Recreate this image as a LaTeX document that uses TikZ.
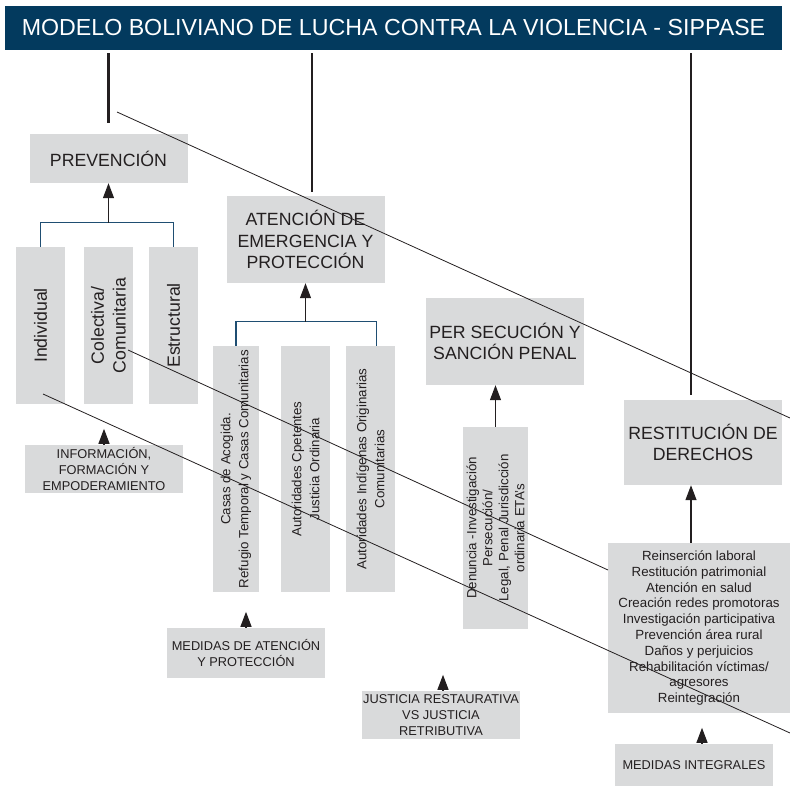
\documentclass[tikz,border=0pt]{standalone}
\usepackage{fontspec}
\setmainfont{Liberation Sans}
\usetikzlibrary{arrows.meta}
\definecolor{hdrblue}{HTML}{033A5E}
\definecolor{boxgray}{HTML}{D9DADB}
\definecolor{brkblue}{HTML}{1F4E72}
\definecolor{ink}{HTML}{231F20}
\newcommand{\bigtxt}{\fontsize{17.7}{21.7}\selectfont}
\newcommand{\captxt}{\fontsize{12.8}{16}\selectfont}
\newcommand{\vtxt}{\fontsize{13.3}{18}\selectfont}
\newcommand{\listtxt}{\fontsize{13.3}{15.8}\selectfont}
\begin{document}
\begin{tikzpicture}[x=1pt,y=-1pt,
    box/.style={fill=boxgray,text=ink,align=center,inner sep=0pt},
    tip/.style={-{Triangle[width=11pt,length=15pt]},ink,line width=1.2pt},
    stem/.style={ink,line width=2.6pt},
    diag/.style={ink,line width=0.8pt},
    brk/.style={brkblue,line width=1.2pt}]
    \useasboundingbox (0,0) rectangle (790,786);
    \node[fill=hdrblue,text=white,inner sep=0pt,minimum width=777,minimum height=44,font=\fontsize{23.2}{28}\selectfont] (hdr) at (393.5,28)
      {MODELO BOLIVIANO DE LUCHA CONTRA LA VIOLENCIA - SIPPASE};
    % prevencion
    \node[box,font=\bigtxt,minimum width=158,minimum height=49] (prev) at (108.5,158.5) {PREVENCIÓN};
    \node[box,font=\bigtxt,rotate=90,minimum width=157,minimum height=49] (ind) at (40.5,325.5) {Individual};
    \node[box,font=\bigtxt,rotate=90,minimum width=157,minimum height=49] (col) at (108.5,325.5) {Colectiva/\\Comunitaria};
    \node[box,font=\bigtxt,rotate=90,minimum width=157,minimum height=49] (est) at (173.5,325.5) {Estructural};
    \node[box,font=\captxt,minimum width=158,minimum height=48] (info) at (104,469) {INFORMACIÓN,\\FORMACIÓN Y\\EMPODERAMIENTO};
    % atencion
    \node[box,font=\bigtxt,minimum width=158,minimum height=87] (aten) at (305.5,239.5) {ATENCIÓN DE\\EMERGENCIA Y\\PROTECCIÓN};
    \node[box,font=\vtxt,rotate=90,minimum width=246,minimum height=46] (casas) at (236,469) {Casas de Acogida.\\Refugio Temporal y Casas Comunitarias};
    \node[box,font=\vtxt,rotate=90,minimum width=246,minimum height=49] (cpet) at (305.5,469) {Autoridades Cpetentes\\Justicia Ordinaria};
    \node[box,font=\vtxt,rotate=90,minimum width=246,minimum height=49] (indig) at (370.5,469) {Autoridades Indígenas Originarias\\Comunitarias};
    \node[box,font=\captxt,minimum width=158,minimum height=50] (medat) at (246,653) {MEDIDAS DE ATENCIÓN\\Y PROTECCIÓN};
    % persecucion
    \node[box,font=\bigtxt,minimum width=158,minimum height=87] (pers) at (505,341.5) {PER SECUCIÓN Y\\SANCIÓN PENAL};
    \node[box,font=\fontsize{13.3}{16}\selectfont,rotate=90,minimum width=202,minimum height=65] (denun) at (495.5,528)
      {Denuncia -Investigación\\Persecución/\\Legal, Penal Jurisdicción\\ordinaria ETA's};
    \node[box,font=\captxt,minimum width=158,minimum height=48] (just) at (441,715) {JUSTICIA RESTAURATIVA\\VS JUSTICIA\\RETRIBUTIVA};
    % restitucion
    \node[box,font=\bigtxt,minimum width=158,minimum height=85] (rest) at (703,442.5) {RESTITUCIÓN DE\\DERECHOS};
    \node[box,font=\listtxt,minimum width=182,minimum height=170] (list) at (699,628) {Reinserción laboral\\Restitución patrimonial\\Atención en salud\\Creación redes promotoras\\Investigación participativa\\Prevención área rural\\Daños y perjuicios\\Rehabilitación víctimas/\\agresores\\Reintegración};
    \node[box,font=\captxt,minimum width=158,minimum height=42] (medint) at (694,765) {MEDIDAS INTEGRALES};

    \coordinate (d1a) at (117,112);
    \coordinate (d1b) at (790,418);
    \coordinate (d2a) at (128,350);
    \coordinate (d2b) at (608,570);
    \coordinate (d3a) at (43,394);
    \coordinate (d3b) at (790,733);

    \draw[stem] ([yshift=-3pt]hdr.south -| prev.north) -- ([yshift=11pt]prev.north);
    \draw[stem] ([xshift=6.5pt,yshift=-3pt]hdr.south -| aten.north) -- ([xshift=6.5pt,yshift=4pt]aten.north);
    \draw[stem] ([xshift=-12pt,yshift=-3pt]hdr.south -| rest.north) -- ([xshift=-12pt,yshift=5pt]rest.north);

    \draw[brk] (ind.east) -- ++(0,-24) -| (est.east);
    \draw[tip] ([yshift=24pt]col.east) -- (prev.south);
    \draw[brk] (casas.east) -- ++(0,-24) -| ([xshift=6pt]indig.east);
    \draw[tip] ([yshift=24pt]cpet.east) -- (aten.south);
    \draw[tip] (denun.east) -- (denun.east |- pers.south);
    \draw[tip] ([xshift=-8pt]list.north) -- ([xshift=-12pt]rest.south);

    \draw[tip] (info.north) -- ++(0,-16);
    \draw[tip] (medat.north) -- ++(0,-16);
    \draw[tip] ([xshift=2pt]just.north) -- ++(0,-16);
    \draw[tip] ([xshift=8pt]medint.north) -- ++(0,-16);

    \draw[diag] (d1a) -- (d1b);
    \draw[diag] (d2a) -- (d2b);
    \draw[diag] (d3a) -- (d3b);
\end{tikzpicture}
\end{document}
